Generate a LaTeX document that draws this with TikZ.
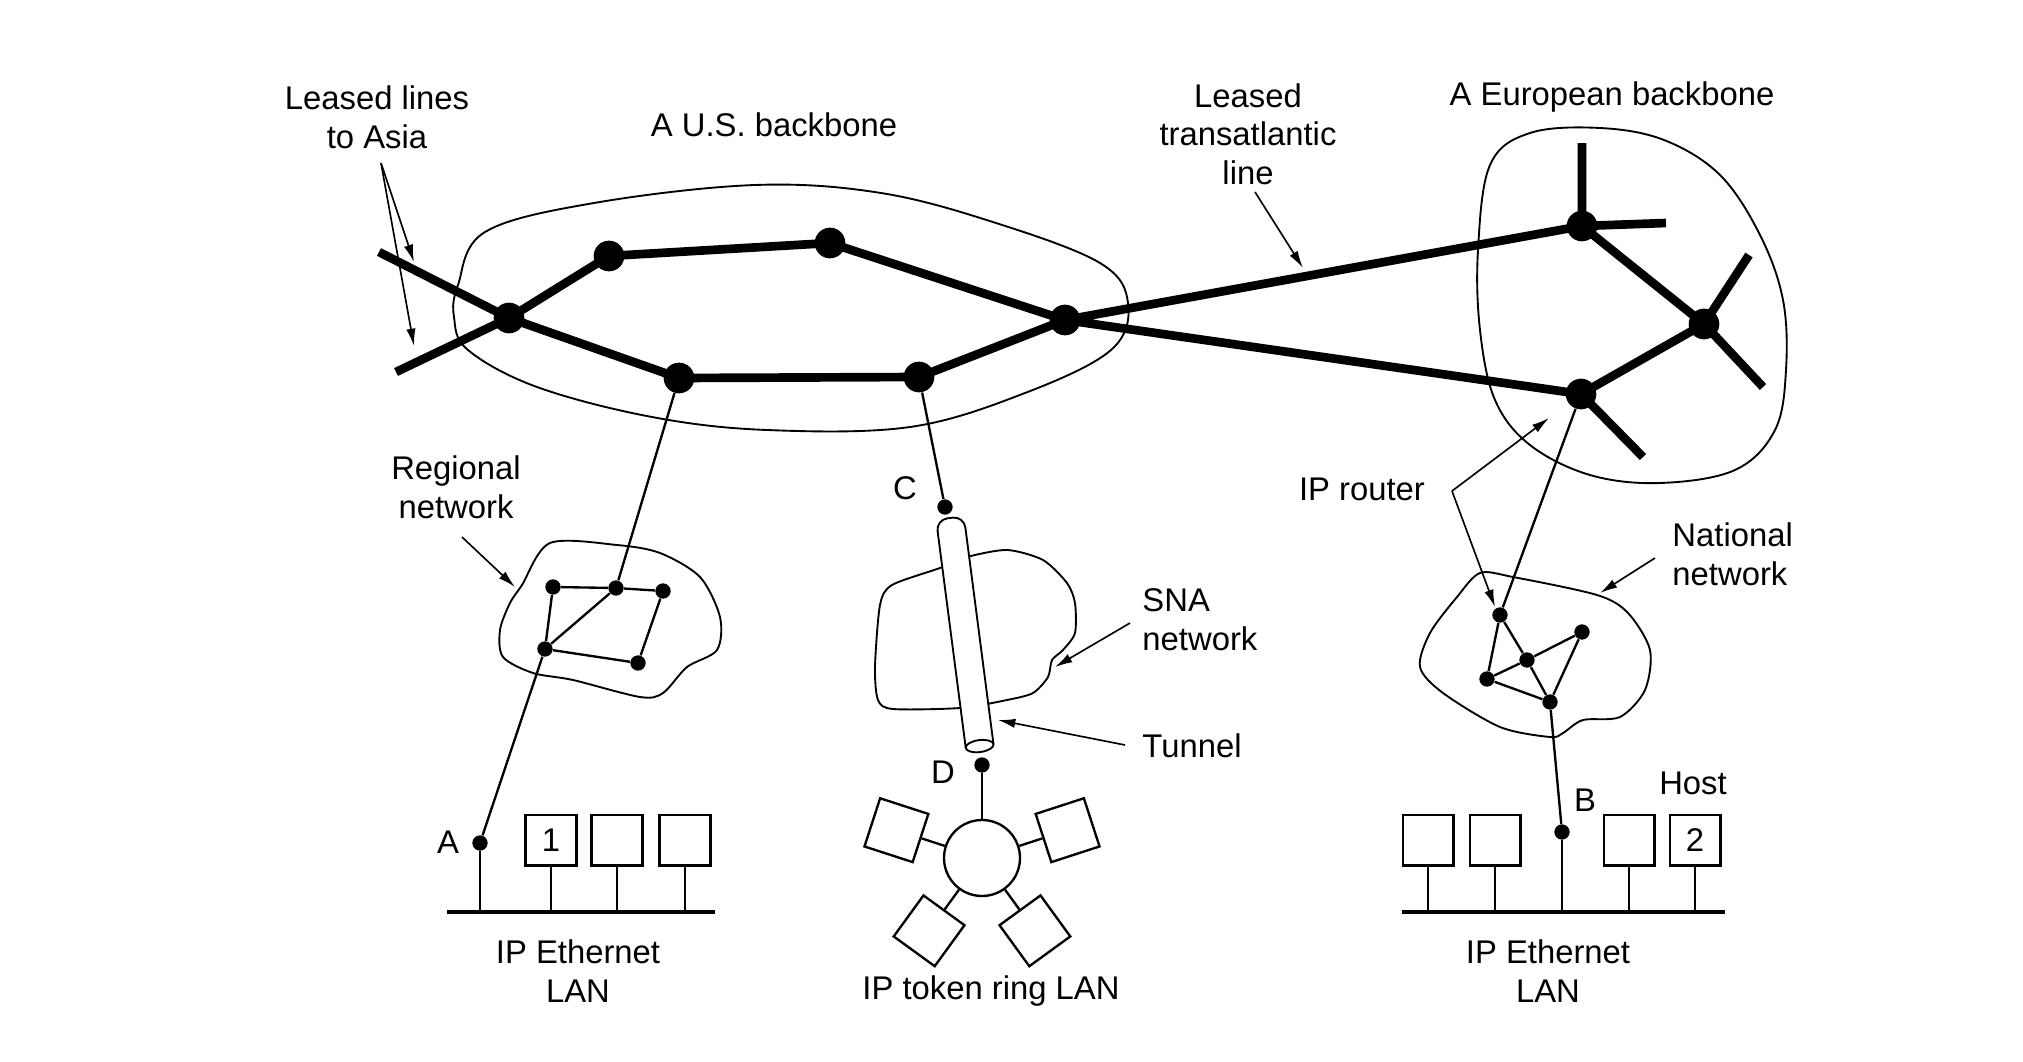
\documentclass[tikz,border=0pt]{standalone}
\usepackage{fontspec}
\setmainfont{Liberation Sans}
\usetikzlibrary{arrows.meta,calc}
\begin{document}
\begin{tikzpicture}[x=0.15mm,y=-0.15mm,inner sep=0pt,
        font=\fontsize{14}{16.5}\selectfont,
        hub/.style={fill=black,circle,minimum size=4.6mm},
        dot/.style={fill=black,circle,minimum size=2.3mm},
        trunk/.style={line width=3.7pt,line join=round},
        link/.style={line width=1pt},
        blob/.style={line width=0.8pt},
        note/.style={line width=0.7pt,-{Latex[length=2.6mm,width=1.4mm]}},
        host/.style={draw,line width=1pt,minimum size=7.6mm},
        bus/.style={line width=1.4pt}]
  \useasboundingbox (0,0) rectangle (2023,1062);
  % \draw[help lines] (0,0) grid[step=100] (2023,1062);

  % clouds
  \draw[blob] plot[smooth cycle,tension=0.6] coordinates {(458,285) (485,232) (594,203)
    (755,185) (881,193) (996,223) (1100,263) (1128,303) (1111,350) (1025,393) (910,427)
    (767,430) (652,417) (537,387) (468,350) (454,317)};
  \draw[blob] plot[smooth cycle,tension=0.6] coordinates {(1490,165) (1530,133) (1600,128)
    (1664,140) (1720,175) (1760,235) (1783,300) (1786,370) (1775,430) (1735,470) (1660,483)
    (1590,475) (1530,445) (1495,400) (1480,330) (1478,250)};
  \draw[blob] plot[smooth cycle,tension=0.5] coordinates {(550,543) (617,545) (660,553)
    (700,577) (720,617) (717,650) (687,667) (663,693) (640,697) (573,680) (533,673)
    (503,657) (500,630) (510,603) (522,585)};
  \draw[blob] plot[smooth cycle,tension=0.5] coordinates {(1480,573) (1513,577) (1597,595)
    (1628,613) (1650,650) (1645,690) (1620,717) (1583,720) (1563,733) (1550,737) (1500,727)
    (1443,693) (1420,667) (1430,633) (1457,597)};
  \draw[blob] plot[smooth cycle,tension=0.45] coordinates {(967,557) (1007,550) (1043,560)
    (1067,583) (1075,603) (1075,633) (1063,650) (1052,660) (1048,677) (1033,693) (1007,700)
    (960,708) (893,709) (878,700) (875,667) (880,605) (892,585) (940,568)};

  % backbones
  \node[hub] (us1) at (509,318) {};
  \node[hub] (us2) at (609,256) {};
  \node[hub] (us3) at (830,243) {};
  \node[hub] (us4) at (1065,320) {};
  \node[hub] (us5) at (679,378) {};
  \node[hub] (us6) at (919,377) {};
  \node[hub] (eu1) at (1582,226) {};
  \node[hub] (eu2) at (1704,324) {};
  \node[hub] (eu3) at (1581,394) {};
  \coordinate (asia1) at (379,252);
  \coordinate (asia2) at (396,372);
  \draw[trunk] (asia1) -- (us1.center) -- (us2.center) -- (us3.center) -- (us4.center)
    -- (us6.center) -- (us5.center) -- (us1.center) -- (asia2);
  \draw[trunk] (us4.center) -- (eu1.center) -- (eu2.center) -- (eu3.center) -- cycle;
  \draw[trunk] (eu1.center) -- (1582,143) (eu1.center) -- (1666,223)
    (eu2.center) -- (1749,255) (eu2.center) -- (1763,387) (eu3.center) -- (1643,457);

  % regional network
  \node[dot] (rg1) at (553,587) {};
  \node[dot] (rg2) at (616,588) {};
  \node[dot] (rg3) at (663,591) {};
  \node[dot] (rg4) at (545,649) {};
  \node[dot] (rg5) at (638,663) {};
  \draw[link] (rg1) -- (rg2) -- (rg3) -- (rg5) -- (rg4) -- (rg1) (rg4) -- (rg2);
  \draw[link] (us5) -- (rg2);

  % national network
  \node[dot] (nt1) at (1500,615) {};
  \node[dot] (nt2) at (1582,632) {};
  \node[dot] (nt3) at (1527,660) {};
  \node[dot] (nt4) at (1487,679) {};
  \node[dot] (nt5) at (1550,702) {};
  \draw[link] (nt1) -- (nt4) -- (nt5) -- (nt2) -- (nt3) -- (nt4) (nt1) -- (nt3) -- (nt5);
  \draw[link] (eu3) -- (nt1);

  % SNA tunnel
  \node[dot] (c) at (945,507) {};
  \node[dot] (d) at (982,765) {};
  \draw[link] (us6) -- (c);
  \begin{scope}[shift={(950,518)},rotate=7.4]
    \draw[blob,fill=white,rounded corners=1.7mm] (-14,230) -- (-14,0) -- (14,0) -- (14,230);
    \draw[blob,fill=white] (0,230) ellipse [x radius=14,y radius=6];
  \end{scope}

  % token ring
  \node[draw,circle,line width=1pt,minimum size=11.4mm] (ring) at (982,858) {};
  \draw[link] (d) -- (ring);
  \foreach \a/\n in {162/1,18/2,234/3,306/4} {
    \node[host,rotate=\a] (tk\n) at ($(ring)+(\a:13.5mm)$) {};
    \draw[link] (ring) -- (tk\n);
  }

  % ethernets
  \coordinate (busl1) at (447,912);
  \coordinate (busl2) at (715,912);
  \coordinate (busr1) at (1402,912);
  \coordinate (busr2) at (1725,912);
  \draw[bus] (busl1) -- (busl2);
  \draw[bus] (busr1) -- (busr2);
  \node[dot] (a) at (480,843) {};
  \node[dot] (b) at (1562,832) {};
  \node[host] (h1) at (551,840) {1};
  \node[host] (h2) at (617,840) {};
  \node[host] (h3) at (685,840) {};
  \node[host] (h4) at (1428,840) {};
  \node[host] (h5) at (1495,840) {};
  \node[host] (h6) at (1629,840) {};
  \node[host] (h7) at (1695,840) {2};
  \foreach \h in {h1,h2,h3,h4,h5,h6,h7}
    \draw[link] (\h) -- (\h |- busl1);
  \draw[link] (a) -- (a |- busl1);
  \draw[link] (b) -- (b |- busr1);
  \draw[link] (rg4) -- (a);
  \draw[link] (nt5) -- (b);

  % labels
  \node[align=center] (asialbl) at (377,117) {Leased lines\\to Asia};
  \node (uslbl) at (774,125) {A U.S. backbone};
  \node[align=center] (atlbl) at (1248,134) {Leased\\transatlantic\\line};
  \node (eulbl) at (1612,97) {A European backbone};
  \node[align=center] (rglbl) at (456,487) {Regional\\network};
  \node (iplbl) at (1362,489) {IP router};
  \node[align=left,anchor=west] (ntlbl) at (1672,554) {National\\network};
  \node[align=left,anchor=west] (snalbl) at (1142,620) {SNA\\network};
  \node[anchor=west] (tunlbl) at (1142,746) {Tunnel};
  \node (clbl) at (905,488) {C};
  \node (dlbl) at (943,772) {D};
  \node (albl) at (448,842) {A};
  \node (blbl) at (1585,800) {B};
  \node (hostlbl) at (1693,783) {Host};
  \node[align=center] (lanl) at (578,971) {IP Ethernet\\LAN};
  \node[align=center] (lanr) at (1548,971) {IP Ethernet\\LAN};
  \node (ringlbl) at (991,991) {IP token ring LAN};

  % pointers
  \coordinate (p1) at (381,163);
  \coordinate (p2) at (1255,192);
  \coordinate (p3) at (462,537);
  \coordinate (p4) at (1130,623);
  \coordinate (p5) at (1125,745);
  \coordinate (p6) at (1452,491);
  \coordinate (p7) at (1655,558);
  \draw[note] (p1) -- (414,262);
  \draw[note] (p1) -- (414,346);
  \draw[note] (p2) -- (1303,268);
  \draw[note] (p3) -- (515,587);
  \draw[note] (p4) -- (1055,667);
  \draw[note] (p5) -- (998,720);
  \draw[note] (p6) -- (1549,418);
  \draw[note] (p6) -- (1495,607);
  \draw[note] (p7) -- (1600,593);
\end{tikzpicture}
\end{document}
